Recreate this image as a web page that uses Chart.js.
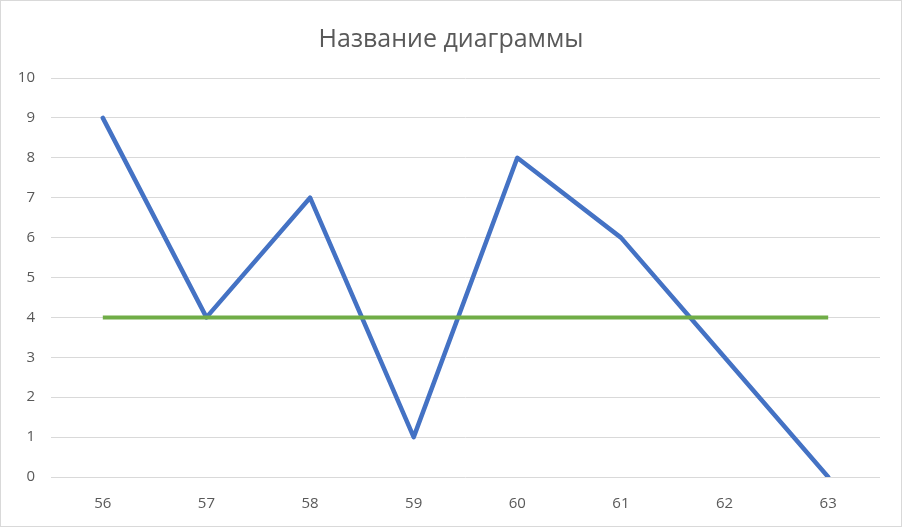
<!DOCTYPE html>
<html>
<head>
<meta charset="utf-8">
<script src="https://cdn.jsdelivr.net/npm/chart.js@4"></script>
<style>
  body { margin: 0; background: #fff; }
  #wrap { width: 902px; height: 527px; box-sizing: border-box; border: 1px solid #d9d9d9; }
  canvas { display: block; }
</style>
</head>
<body>
<div id="wrap"><canvas id="chart" width="900" height="525"></canvas></div>
<script>
// данные диаграммы
const categories = ['56', '57', '58', '59', '60', '61', '62', '63'];
const seriesBlue = [9, 4, 7, 1, 8, 6, 3, 0];
const seriesGreen = [4, 4, 4, 4, 4, 4, 4, 4];
const yTicks = [0, 1, 2, 3, 4, 5, 6, 7, 8, 9, 10];

const fontFamily = '"Segoe UI", "Open Sans", "Noto Sans", sans-serif';

const ctx = document.getElementById('chart').getContext('2d');
new Chart(ctx, {
    type: 'line',
    data: {
        labels: categories,
        datasets: [
            {
                data: seriesGreen,
                borderColor: '#70AD47',
                borderWidth: 4,
                pointRadius: 0,
                order: 0
            },
            {
                data: seriesBlue,
                borderColor: '#4472C4',
                borderWidth: 4.5,
                borderJoinStyle: 'round',
                borderCapStyle: 'round',
                pointRadius: 0,
                tension: 0,
                order: 1
            }
        ]
    },
    options: {
        responsive: false,
        animation: false,
        // симметричные отступы, чтобы заголовок стоял по центру
        layout: { padding: { left: 10.5, right: 10.5, top: 0, bottom: 0 } },
        plugins: {
            legend: { display: false },
            tooltip: { enabled: false },
            title: {
                display: true,
                text: 'Название диаграммы',
                color: '#595959',
                font: { family: fontFamily, size: 25, weight: 'normal', lineHeight: 1.2 },
                padding: { top: 24, bottom: 23 }
            }
        },
        scales: {
            x: {
                offset: true,
                grid: { display: false, drawTicks: false },
                border: { display: false },
                ticks: {
                    color: '#595959',
                    font: { family: fontFamily, size: 15 },
                    padding: 18,
                    maxRotation: 0
                },
                afterFit: (axis) => { axis.height = 49; }
            },
            y: {
                min: 0,
                max: 10,
                afterBuildTicks: (axis) => { axis.ticks = yTicks.map(v => ({ value: v })); },
                grid: { color: '#d9d9d9', lineWidth: 1, drawTicks: false },
                border: { display: false },
                ticks: {
                    color: '#595959',
                    font: { family: fontFamily, size: 15 },
                    padding: 16
                },
                afterFit: (axis) => { axis.width = 39.5; }
            },
            // пустая ось справа - только отступ
            yRight: {
                position: 'right',
                grid: { display: false, drawTicks: false },
                border: { display: false },
                ticks: { display: false },
                afterFit: (axis) => { axis.width = 10.5; }
            }
        }
    }
});
</script>
</body>
</html>
